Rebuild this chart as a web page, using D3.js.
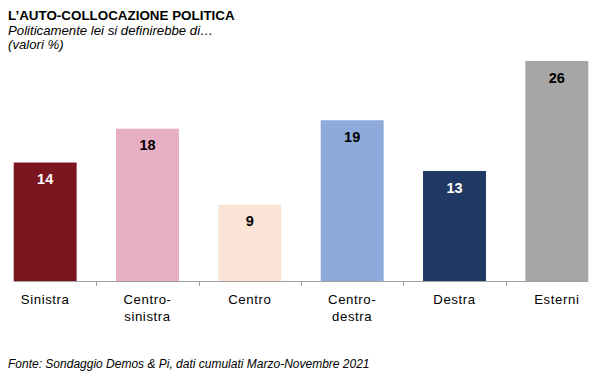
<!DOCTYPE html>
<html><head><meta charset="utf-8">
<script src="https://cdn.jsdelivr.net/npm/d3@7"></script>
<style>body{margin:0;background:#fff}svg{display:block;font-family:"Liberation Sans",Arial,sans-serif}</style>
</head><body><svg id="c" width="600" height="378"></svg>
<script>
const categories = [["Sinistra"],["Centro-","sinistra"],["Centro"],["Centro-","destra"],["Destra"],["Esterni"]];
const values = [14,18,9,19,13,26];
const colors = ["#7b1520","#e7aec4","#fbe3d5","#8eaadb","#1f3864","#a6a6a6"];
const labelColors = ["#fff","#000","#000","#000","#fff","#000"];

const svg = d3.select("#c");
const ids = d3.range(values.length);
const x = d3.scaleBand().domain(ids).range([-6,608]).paddingInner(0.385).paddingOuter(0.1925);
const y = d3.scaleLinear().domain([0,26]).range([281,61]);

svg.append("text").attr("x",8).attr("y",20).attr("font-size",13.4).attr("font-weight","bold").attr("fill","#000").text("L’AUTO-COLLOCAZIONE POLITICA");
svg.append("text").attr("x",8).attr("y",35).attr("font-size",13.2).attr("font-style","italic").attr("fill","#000").text("Politicamente lei si definirebbe di…");
svg.append("text").attr("x",8).attr("y",49).attr("font-size",13.2).attr("font-style","italic").attr("fill","#000").text("(valori %)");

svg.selectAll("rect.bar").data(ids).join("rect").attr("class","bar")
  .attr("x",i=>x(i)).attr("width",x.bandwidth())
  .attr("y",i=>y(values[i])).attr("height",i=>y(0)-y(values[i]))
  .attr("fill",i=>colors[i]);

svg.selectAll("text.val").data(ids).join("text").attr("class","val")
  .attr("x",i=>x(i)+x.bandwidth()/2).attr("y",i=>y(values[i])+21.5)
  .attr("text-anchor","middle").attr("font-size",14.5).attr("font-weight","bold")
  .attr("fill",i=>labelColors[i]).text(i=>values[i]);

// axis
const ax = svg.append("g");
ax.append("line").attr("x1",x(0)).attr("x2",x(ids.length-1)+x.bandwidth()).attr("y1",281.5).attr("y2",281.5).attr("stroke","#a0a0a0").attr("stroke-width",1);
ids.slice(1).forEach(i=>{
  const tx = Math.round(x(i) - x.step()*x.paddingInner()/2)+0.5;
  ax.append("line").attr("x1",tx).attr("x2",tx).attr("y1",281).attr("y2",286).attr("stroke","#a0a0a0");
});
ids.forEach(i=>{
  const cx = x(i)+x.bandwidth()/2;
  const t = ax.append("text").attr("x",cx).attr("y",304).attr("text-anchor","middle").attr("font-size",13.2).attr("letter-spacing",0.6).attr("fill","#000");
  categories[i].forEach((s,k)=>t.append("tspan").attr("x",cx).attr("dy",k?16.5:0).text(s));
});

svg.append("text").attr("x",8).attr("y",368).attr("font-size",12).attr("font-style","italic").attr("fill","#000").text("Fonte: Sondaggio Demos & Pi, dati cumulati Marzo-Novembre 2021");
</script></body></html>
